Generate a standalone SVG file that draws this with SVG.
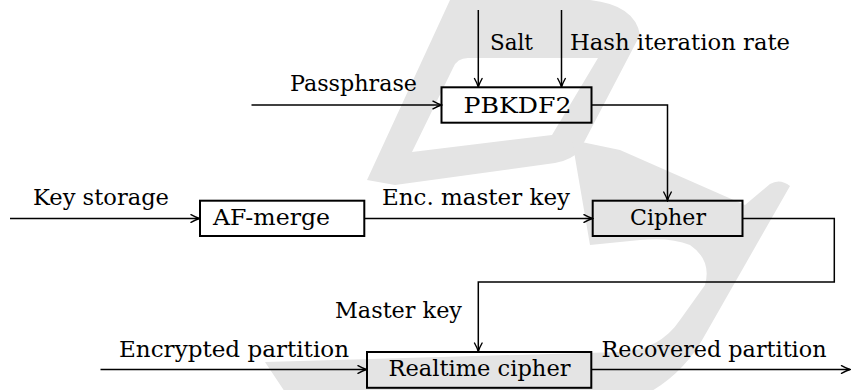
<svg xmlns="http://www.w3.org/2000/svg" width="852" height="390" viewBox="0 0 852 390">
  <style>
    .wm { fill: #e4e4e4; stroke: none; }
    .box { fill: none; stroke: #000; stroke-width: 2; }
    .ln { fill: none; stroke: #000; stroke-width: 1.5; }
    .t { font-family: "DejaVu Serif", "Liberation Serif", serif; font-size: 23px; fill: #000; }
  </style>
  <defs>
    <marker id="arr" viewBox="-10 -5 11 10" refX="0" refY="0" markerWidth="11" markerHeight="10" markerUnits="userSpaceOnUse" orient="auto">
      <path d="M-8.5,-3.8 Q-3.5,-1 0,0 Q-3.5,1 -8.5,3.8" fill="none" stroke="#000" stroke-width="1.4" stroke-linecap="round"/>
    </marker>
  </defs>

  <g id="watermark">
    <path class="wm" fill-rule="evenodd" d="M367,180 L450,0 L590,0 Q635,5 640,35 L580,150 Q572,160 555,163 L395,185 Z
      M453,68 Q457,58 468,58 L598,58 L552,135 L412,152 Z"/>
    <path class="wm" d="M572,140 L620,150 L745,205 L770,184 Q780,178 790,186 L705,335 Q685,372 650,392 L285,392 L265,362 L620,352 Q660,350 680,320 L705,285 Q712,260 690,245 Q670,237 640,240 L590,245 Z"/>
  </g>

  <g id="connectors">
    <line id="e-salt" class="ln" x1="478.3" y1="10" x2="478.3" y2="87" marker-end="url(#arr)"/>
    <line id="e-hash" class="ln" x1="561.5" y1="10" x2="561.5" y2="87" marker-end="url(#arr)"/>
    <line id="e-pass" class="ln" x1="251.5" y1="105" x2="441.5" y2="105" marker-end="url(#arr)"/>
    <polyline id="e-pbkdf-cipher" class="ln" points="591.5,105 667.5,105 667.5,200.5" marker-end="url(#arr)"/>
    <line id="e-keystore" class="ln" x1="10" y1="218.5" x2="199.5" y2="218.5" marker-end="url(#arr)"/>
    <line id="e-encmk" class="ln" x1="364.5" y1="218.5" x2="592.5" y2="218.5" marker-end="url(#arr)"/>
    <polyline id="e-masterkey" class="ln" points="742.5,218.5 834.3,218.5 834.3,282 478.3,282 478.3,351.5" marker-end="url(#arr)"/>
    <line id="e-encpart" class="ln" x1="100.5" y1="369.5" x2="366.5" y2="369.5" marker-end="url(#arr)"/>
    <line id="e-recpart" class="ln" x1="591.5" y1="369.5" x2="850" y2="369.5" marker-end="url(#arr)"/>

    <text class="t" x="490" y="50" textLength="43" lengthAdjust="spacingAndGlyphs">Salt</text>
    <text class="t" x="570" y="50" textLength="220" lengthAdjust="spacingAndGlyphs">Hash iteration rate</text>
    <text class="t" x="290" y="91" textLength="127" lengthAdjust="spacingAndGlyphs">Passphrase</text>
    <text class="t" x="33" y="205" textLength="136" lengthAdjust="spacingAndGlyphs">Key storage</text>
    <text class="t" x="382" y="205" textLength="188" lengthAdjust="spacingAndGlyphs">Enc. master key</text>
    <text class="t" x="335" y="318" textLength="127" lengthAdjust="spacingAndGlyphs">Master key</text>
    <text class="t" x="119" y="357" textLength="230" lengthAdjust="spacingAndGlyphs">Encrypted partition</text>
    <text class="t" x="601.5" y="357" textLength="225" lengthAdjust="spacingAndGlyphs">Recovered partition</text>
  </g>

  <g id="node-pbkdf2">
    <rect class="box" x="441.5" y="87.3" width="150" height="35.4"/>
    <text class="t" x="463.5" y="113.3" textLength="108" lengthAdjust="spacingAndGlyphs">PBKDF2</text>
  </g>
  <g id="node-afmerge">
    <rect class="box" x="200" y="200.7" width="164.3" height="35.3"/>
    <text class="t" x="213" y="225" textLength="117" lengthAdjust="spacingAndGlyphs">AF-merge</text>
  </g>
  <g id="node-cipher">
    <rect class="box" x="592.7" y="200.7" width="149.8" height="35.3"/>
    <text class="t" x="630" y="225" textLength="76" lengthAdjust="spacingAndGlyphs">Cipher</text>
  </g>
  <g id="node-realtime">
    <rect class="box" x="367" y="352" width="224.3" height="35.8"/>
    <text class="t" x="388.5" y="376" textLength="182" lengthAdjust="spacingAndGlyphs">Realtime cipher</text>
  </g>
</svg>
